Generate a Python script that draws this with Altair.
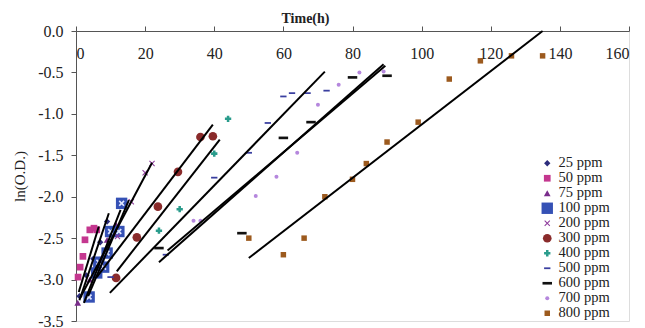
import altair as alt
import pandas as pd

series = ["25 ppm", "50 ppm", "75 ppm", "100 ppm", "200 ppm", "300 ppm",
          "400 ppm", "500 ppm", "600 ppm", "700 ppm", "800 ppm"]

t_25 = [1.0, 3.0, 5.0, 7.0, 9.0]
y_25 = [-3.20, -2.95, -2.75, -2.55, -2.30]
t_50 = [0.6, 1.2, 2.0, 2.6, 4.0, 5.2, 6.0]
y_50 = [-2.97, -2.85, -2.72, -2.52, -2.40, -2.38, -2.40]
t_75 = [0.5, 4.0, 7.0, 9.0, 10.7, 11.5]
y_75 = [-3.28, -3.00, -2.75, -2.52, -2.44, -2.33]
t_100 = [3.8, 6.0, 6.6, 8.0, 9.0, 10.0, 12.4, 13.2]
y_100 = [-3.21, -2.92, -2.79, -2.85, -2.68, -2.42, -2.42, -2.08]
t_200 = [12.0, 16.0, 20.0, 22.0]
y_200 = [-2.48, -2.06, -1.71, -1.60]
t_300 = [11.6, 17.6, 23.7, 29.5, 36.0, 39.6]
y_300 = [-2.98, -2.49, -2.12, -1.70, -1.28, -1.27]
t_400 = [24.0, 30.0, 40.0, 44.0]
y_400 = [-2.41, -2.15, -1.48, -1.06]
t_500 = [10.0, 26.0, 40.0, 50.0, 55.5, 60.0, 62.5, 67.0, 72.5]
y_500 = [-2.97, -2.70, -1.77, -1.47, -1.11, -0.79, -0.75, -0.75, -0.72]
t_600 = [24.0, 48.0, 60.0, 68.0, 80.0, 90.0]
y_600 = [-2.62, -2.44, -1.29, -1.10, -0.56, -0.54]
t_700 = [34.0, 36.0, 52.0, 58.0, 64.0, 70.0, 76.0, 82.0, 89.0]
y_700 = [-2.29, -2.29, -1.99, -1.76, -1.47, -0.89, -0.65, -0.50, -0.49]
t_800 = [50.0, 60.0, 66.0, 72.0, 80.0, 84.0, 90.0, 99.0, 108.0, 117.0, 126.0, 135.0]
y_800 = [-2.50, -2.70, -2.50, -2.00, -1.79, -1.60, -1.34, -1.10, -0.58, -0.36, -0.30, -0.30]

# fitted regression lines (start / end of each trend line)
fit_t1 = [1.0, 0.8, 2.3, 3.5, 1.2, 6.0, 11.8, 9.8, 24.0, 26.5, 50.0]
fit_y1 = [-3.25, -3.15, -3.28, -3.20, -3.22, -2.97, -2.90, -3.16, -2.79, -2.65, -2.74]
fit_t2 = [9.5, 6.6, 12.9, 15.3, 22.0, 39.6, 41.6, 72.0, 89.0, 89.5, 135.0]
fit_y2 = [-2.20, -2.36, -2.16, -2.04, -1.59, -1.13, -1.31, -0.49, -0.40, -0.42, 0.0]

x_ticks = [0, 20, 40, 60, 80, 100, 120, 140, 160]
y_ticks = [0.0, -0.5, -1.0, -1.5, -2.0, -2.5, -3.0, -3.5]

colors = ["#2c2c7c", "#c4378f", "#7a2d8c", "#3551b5", "#8e3a9c", "#8a2b2b",
          "#2a9c8c", "#3a3fa0", "#111111", "#b587dd", "#9c5a1e"]
x_path = "M-1,-0.75L-0.75,-1L0,-0.25L0.75,-1L1,-0.75L0.25,0L1,0.75L0.75,1L0,0.25L-0.75,1L-1,0.75L-0.25,0Z"
x_path_bold = "M-1,-0.6L-0.6,-1L0,-0.4L0.6,-1L1,-0.6L0.4,0L1,0.6L0.6,1L0,0.4L-0.6,1L-1,0.6L-0.4,0Z"
dash_path = "M-1,-0.28L1,-0.28L1,0.28L-1,0.28Z"
shapes = ["diamond", "square", "triangle-up", "square", x_path, "circle",
          "cross", dash_path, dash_path, "circle", "square"]
sizes = [40, 45, 45, 130, 35, 75, 40, 40, 90, 16, 30]

T = [t_25, t_50, t_75, t_100, t_200, t_300, t_400, t_500, t_600, t_700, t_800]
Y = [y_25, y_50, y_75, y_100, y_200, y_300, y_400, y_500, y_600, y_700, y_800]

rows = []
for name, ts, ys in zip(series, T, Y):
    for t, y in zip(ts, ys):
        rows.append({"series": name, "t": t, "y": y})
points = pd.DataFrame(rows)

fits = pd.DataFrame({"series": series, "t1": fit_t1, "y1": fit_y1,
                     "t2": fit_t2, "y2": fit_y2})

FONT = "Liberation Serif"

xscale = alt.Scale(domain=[0, 160], nice=False)
yscale = alt.Scale(domain=[-3.5, 0], nice=False)

x_axis = alt.Axis(orient="top", values=x_ticks, title="Time(h)", grid=False,
                  labelBaseline="top", labelPadding=-19, tickSize=5,
                  labelFont=FONT, labelFontSize=16, labelColor="#222",
                  titleFont=FONT, titleFontSize=14, titleFontWeight="bold",
                  titleX=229, titleY=-6, titleColor="#222",
                  domainColor="#555", tickColor="#555")
y_axis = alt.Axis(values=y_ticks, title="ln(O.D.)", grid=False,
                  labelExpr="replace(format(datum.value, '.1f'), '\u2212', '-')",
                  tickSize=5, labelPadding=8, labelFont=FONT, labelFontSize=16,
                  labelColor="#222", titleFont=FONT, titleFontSize=15,
                  titleFontWeight="normal", titleX=-49, titleY=145,
                  titleColor="#222", domainColor="#555", tickColor="#555")

pts = alt.Chart(points).mark_point(filled=True, opacity=1).encode(
    x=alt.X("t:Q", scale=xscale, axis=x_axis),
    y=alt.Y("y:Q", scale=yscale, axis=y_axis),
    color=alt.Color("series:N", scale=alt.Scale(domain=series, range=colors),
                    sort=series,
                    legend=alt.Legend(title=None, orient="none", legendX=464,
                                      legendY=125, labelFont=FONT,
                                      labelFontSize=14.5, labelColor="#222",
                                      symbolSize=40, rowPadding=0,
                                      labelOffset=4, padding=0)),
    shape=alt.Shape("series:N", scale=alt.Scale(domain=series, range=shapes),
                    sort=series),
    size=alt.Size("series:N",
                  scale=alt.Scale(type="ordinal", domain=series, range=sizes),
                  legend=None),
)

cross_overlay = alt.Chart(points).transform_filter(
    alt.datum.series == "100 ppm"
).mark_point(filled=True, opacity=1, shape=x_path_bold, color="#dfe6ff", size=36).encode(
    x=alt.X("t:Q", scale=xscale),
    y=alt.Y("y:Q", scale=yscale),
)

lines = alt.Chart(fits).mark_rule(color="black", strokeWidth=2).encode(
    x=alt.X("t1:Q", scale=xscale),
    y=alt.Y("y1:Q", scale=yscale),
    x2="t2:Q",
    y2="y2:Q",
)

chart = alt.layer(pts, cross_overlay, lines).properties(
    width=553, height=290,
    autosize=alt.AutoSizeParams(type="none"),
    padding={"left": 68, "top": 23, "right": 8, "bottom": 7},
).configure_view(stroke=None).configure(background="white")

chart.save("out.html", embed_options={"renderer": "svg", "actions": False})
